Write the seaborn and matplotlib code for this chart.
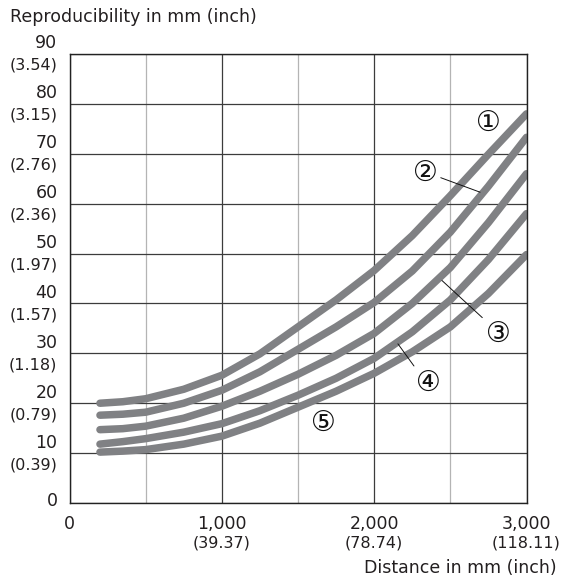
from matplotlib import pyplot as plt
import matplotlib.transforms as mtransforms
import pandas as pd
import seaborn as sns

# distance in mm where the curves were read
distance = [200, 350, 500, 750, 1000, 1250, 1500, 1750, 2000, 2250, 2500, 2750, 3000]

# reproducibility in mm, one list per curve
curve_1 = [20.0, 20.3, 20.9, 22.8, 25.6, 29.9, 35.3, 40.7, 46.6, 53.6, 61.6, 69.9, 78.0]
curve_2 = [17.6, 17.8, 18.2, 20.0, 22.6, 26.3, 30.8, 35.3, 40.2, 46.5, 54.3, 63.5, 73.3]
curve_3 = [14.7, 14.9, 15.4, 17.0, 19.4, 22.4, 25.8, 29.6, 34.0, 40.0, 47.2, 56.2, 66.0]
curve_4 = [11.8, 12.3, 12.9, 14.2, 15.9, 18.5, 21.6, 25.0, 29.0, 34.3, 40.7, 48.8, 58.0]
curve_5 = [10.2, 10.4, 10.7, 11.8, 13.4, 16.0, 19.2, 22.4, 26.0, 30.3, 35.3, 42.0, 49.8]

curve_names = ["①", "②", "③", "④", "⑤"]

y_ticks = [10, 20, 30, 40, 50, 60, 70, 80, 90]
y_inch = ["(0.39)", "(0.79)", "(1.18)", "(1.57)", "(1.97)", "(2.36)", "(2.76)", "(3.15)", "(3.54)"]
x_ticks = [1000, 2000, 3000]
x_tick_text = ["1,000", "2,000", "3,000"]
x_inch = ["(39.37)", "(78.74)", "(118.11)"]

rows = []
for name, vals in zip(curve_names, [curve_1, curve_2, curve_3, curve_4, curve_5]):
    for d, v in zip(distance, vals):
        rows.append({"curve": name, "distance": d, "repro": v})
df = pd.DataFrame(rows)

sns.set_style("white")
plt.rcParams['font.family'] = ['DejaVu Sans', 'Noto Sans CJK JP']

W, H = 562, 580
fig = plt.figure(figsize=(W / 100, H / 100), dpi=100)
ax = fig.add_axes([69.5 / W, 1 - 503 / H, 457 / W, 449 / H])

grey = "#808184"
sns.lineplot(data=df, x="distance", y="repro", hue="curve", palette=[grey] * 5,
             legend=False, ax=ax, lw=5.4, solid_capstyle="round", sort=False)

ax.set_xlim(0, 3000)
ax.set_ylim(0, 90)
ax.set_xticks([0, 1000, 2000, 3000])
ax.set_xticks([500, 1500, 2500], minor=True)
ax.set_yticks([0] + y_ticks)
ax.grid(which="major", color="#3c3c3c", lw=0.9)
ax.grid(which="minor", axis="x", color="#b4b4b4", lw=0.9)
ax.set_axisbelow(True)
ax.tick_params(which="both", length=0, labelleft=False, labelbottom=False)
ax.set(xlabel="", ylabel="")
for s in ax.spines.values():
    s.set_color("#222222")
    s.set_linewidth(1.0)

txt = "#231f20"
# y tick labels (mm above, inch below)
ytr = ax.get_yaxis_transform()
for v, inch in zip(y_ticks, y_inch):
    t1 = mtransforms.offset_copy(ytr, fig=fig, x=-12, y=1.5, units="dots")
    t2 = mtransforms.offset_copy(ytr, fig=fig, x=-12, y=-4, units="dots")
    ax.text(0, v, str(v), transform=t1, ha="right", va="bottom", fontsize=12.5, color=txt)
    ax.text(0, v, inch, transform=t2, ha="right", va="top", fontsize=11.5, color=txt)
t0 = mtransforms.offset_copy(ytr, fig=fig, x=-12, y=1.5, units="dots")
ax.text(0, 0, "0", transform=t0, ha="right", va="center", fontsize=12.5, color=txt)

# x tick labels
xtr = ax.get_xaxis_transform()
tx1 = mtransforms.offset_copy(xtr, fig=fig, y=-21, units="dots")
tx2 = mtransforms.offset_copy(xtr, fig=fig, y=-40, units="dots")
ax.text(0, 0, "0", transform=tx1, ha="center", va="center", fontsize=12.5, color=txt)
for v, lab, inch in zip(x_ticks, x_tick_text, x_inch):
    ax.text(v, 0, lab, transform=tx1, ha="center", va="center", fontsize=12.5, color=txt)
    ax.text(v, 0, inch, transform=tx2, ha="center", va="center", fontsize=11.5, color=txt)

fig.text(10 / W, 1 - 17 / H, "Reproducibility in mm (inch)", ha="left", va="center",
         fontsize=12.5, color=txt)
fig.text(556.5 / W, 1 - 568 / H, "Distance in mm (inch)", ha="right", va="center",
         fontsize=12.5, color=txt)

# curve labels
lab_kw = dict(fontsize=20, color="#111111", ha="center", va="center")
line_kw = dict(arrowstyle="-", color="#111111", lw=0.7, shrinkA=0, shrinkB=0)
ax.text(2747, 76.2, "①", **lab_kw)
ax.annotate("②", xy=(2695, 62.3), xytext=(2334, 66.1),
            arrowprops=dict(line_kw, relpos=(0.95, 0.4)), **lab_kw)
ax.annotate("③", xy=(2445, 44.6), xytext=(2813, 33.9),
            arrowprops=dict(line_kw, relpos=(0.15, 0.85)), **lab_kw)
ax.annotate("④", xy=(2156, 31.9), xytext=(2354, 24.0),
            arrowprops=dict(line_kw, relpos=(0.15, 0.85)), **lab_kw)
ax.text(1664, 16.0, "⑤", **lab_kw)

fig.savefig("out.png", dpi=100)
